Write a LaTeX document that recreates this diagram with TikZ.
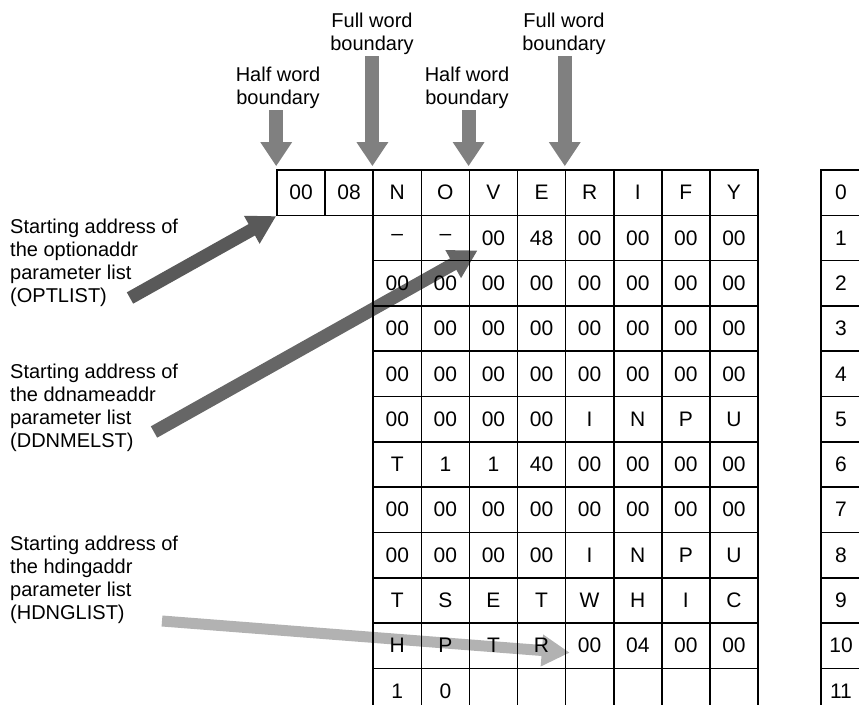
\documentclass[tikz,border=0pt]{standalone}
\usepackage{fontspec}
\setmainfont{Liberation Sans}
\usetikzlibrary{arrows.meta,backgrounds}

\begin{document}
\begin{tikzpicture}[x=1pt,y=-1pt, every node/.style={font=\fontsize{20}{23}\selectfont},
  cell/.style={draw,line width=1.6pt,minimum width=48.1pt,minimum height=45.3pt,inner sep=0pt,
    font=\fontsize{21}{23}\selectfont},
  idxcell/.style={cell,minimum width=40pt},
  lbl/.style={align=left,anchor=west,inner sep=0pt},
  toplbl/.style={align=center,inner sep=1pt},
  bnd/.style={line width=14pt,black!50,-{Triangle[width=30pt,length=24pt]}},
  ptr/.style={line width=13pt,-{Triangle[width=30pt,length=28pt]}}]
  \useasboundingbox (0,0) rectangle (859,704);
  \clip (0,0) rectangle (859,704);
  % first doubleword
  \foreach \t [count=\j from 0] in {00,08,N,O,V,E,R,I,F,Y}
    \node[cell] (r0-\j) at ({301.05+48.1*\j},192.65) {\t};
  % the rest of the area, from N on
  \foreach \row [count=\i] in {{\raisebox{-3pt}{\textendash},\raisebox{-3pt}{\textendash},00,48,00,00,00,00},
      {00,00,00,00,00,00,00,00},{00,00,00,00,00,00,00,00},{00,00,00,00,00,00,00,00},
      {00,00,00,00,I,N,P,U},{T,1,1,40,00,00,00,00},{00,00,00,00,00,00,00,00},
      {00,00,00,00,I,N,P,U},{T,S,E,T,W,H,I,C},{H,P,T,R,00,04,00,00},
      {1,0,{},{},{},{},{},{}}}
    \foreach \t [count=\j from 2] in \row
      \node[cell] (r\i-\j) at ({301.05+48.1*\j},{192.65+45.3*\i}) {\t};
  % doubleword numbers
  \foreach \i in {0,...,11}
    \node[idxcell] (idx\i) at (841,{192.65+45.3*\i}) {\i};
  % boundaries
  \node[toplbl] (half1) at (278,88) {Half word\\boundary};
  \node[toplbl] (full1) at (372,34) {Full word\\boundary};
  \node[toplbl] (half2) at (467,88) {Half word\\boundary};
  \node[toplbl] (full2) at (564,34) {Full word\\boundary};
  % parameter lists
  \node[lbl] (optlbl) at (10,263) {Starting address of\\the optionaddr\\parameter list\\(OPTLIST)};
  \node[lbl] (ddnlbl) at (10,408) {Starting address of\\the ddnameaddr\\parameter list\\(DDNMELST)};
  \node[lbl] (hdnlbl) at (10,580) {Starting address of\\the hdingaddr\\parameter list\\(HDNGLIST)};
  \coordinate (optTail) at (130,298);
  \coordinate (ddnTail) at (154,432);
  \coordinate (hdnTail) at (162,621);
  \begin{scope}[on background layer]
    \draw[bnd] (r0-0.north west |- half1.south) -- ([yshift=3pt]r0-0.north west);
    \draw[bnd] (r0-2.north west |- full1.south) -- ([yshift=3pt]r0-2.north west);
    \draw[bnd] (r0-4.north west |- half2.south) -- ([yshift=3pt]r0-4.north west);
    \draw[bnd] (r0-6.north west |- full2.south) -- ([yshift=3pt]r0-6.north west);
    \draw[ptr,black!65] (optTail) -- (r0-0.south west);
    \draw[ptr,black!60] (ddnTail) -- ([xshift=9pt,yshift=11pt]r1-4.south west);
    \draw[ptr,black!30,line width=11pt] (hdnTail) -- ([xshift=5pt,yshift=-7pt]r10-6.west);
  \end{scope}
\end{tikzpicture}
\end{document}
